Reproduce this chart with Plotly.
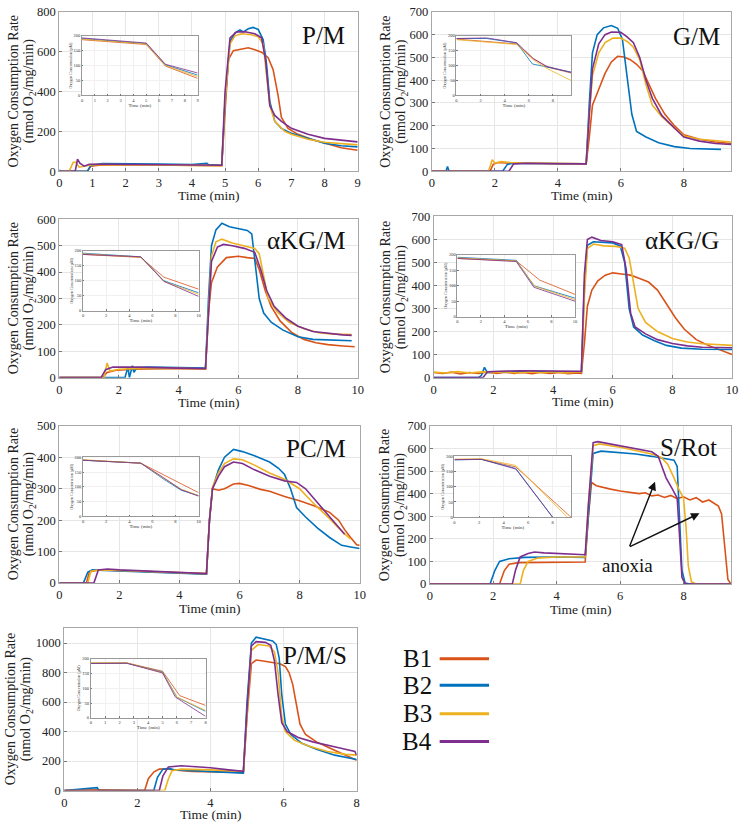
import plotly.graph_objects as go

W, H = 745, 829
FONT = "Liberation Serif, Times New Roman, Times, serif"
SERIES = ["B1", "B2", "B3", "B4"]
COLORS = ["#D95319", "#0072BD", "#EDB120", "#7E2F8E"]

# ---------------- data: (time min, rate nmol O2/mg/min) ----------------
PM_B1 = [(0,0),(0.85,0),(0.95,25),(1.2,30),(2,32),(3,30),(4,30),(4.9,28),(5.0,300),(5.1,560),(5.25,605),(5.5,612),(5.7,620),(5.9,610),(6.1,598),(6.3,570),(6.45,510),(6.6,380),(6.7,270),(6.9,215),(7.2,185),(7.6,160),(8.0,140),(8.5,118),(9.0,105)]
PM_B2 = [(0,5),(0.1,0),(0.85,0),(0.95,30),(1.3,38),(2,38),(3,36),(4,33),(4.45,40),(4.5,33),(4.9,30),(5.0,350),(5.15,650),(5.3,695),(5.45,710),(5.55,700),(5.7,715),(5.85,722),(6.0,712),(6.15,660),(6.25,540),(6.35,350),(6.5,250),(6.7,215),(7.0,190),(7.5,165),(8.0,140),(8.5,128),(9.0,122)]
PM_B3 = [(0,0),(0.3,0),(0.42,45),(0.5,45),(0.6,20),(0.8,28),(1.0,33),(2,32),(3,30),(4,30),(4.9,28),(5.0,350),(5.15,640),(5.3,680),(5.5,690),(5.8,685),(6.0,675),(6.15,640),(6.25,500),(6.35,330),(6.5,250),(6.8,200),(7.0,185),(7.5,160),(8.0,145),(8.5,140),(9.0,132)]
PM_B4 = [(0,0),(0.48,0),(0.55,60),(0.62,40),(0.75,25),(0.9,35),(1.5,35),(2.5,33),(3.5,31),(4.5,30),(4.9,30),(5.0,400),(5.15,670),(5.35,700),(5.6,700),(5.9,690),(6.1,670),(6.22,560),(6.35,330),(6.5,280),(6.7,250),(7.0,215),(7.5,185),(8.0,165),(8.5,155),(9.0,147)]
PM_IN_B1 = [(0,186),(5,170),(6.5,98),(9,57)]
PM_IN_B2 = [(0,190),(5,173),(6.5,102),(9,68)]
PM_IN_B3 = [(0,188),(5,172),(6.5,100),(9,63)]
PM_IN_B4 = [(0,192),(5,175),(6.5,104),(9,75)]

GM_B1 = [(0,0),(1.85,0),(1.95,30),(2.1,38),(2.5,35),(3,35),(4,33),(4.9,32),(5.0,150),(5.1,290),(5.3,360),(5.5,430),(5.7,480),(5.9,505),(6.1,502),(6.3,490),(6.5,470),(6.7,440),(6.9,380),(7.1,320),(7.4,250),(7.7,200),(8.0,160),(8.5,140),(9.0,128),(9.5,122)]
GM_B2 = [(0,0),(0.45,0),(0.5,20),(0.55,0),(2.25,0),(2.4,30),(2.6,35),(3,35),(4,32),(4.9,32),(5.0,300),(5.1,520),(5.25,600),(5.45,630),(5.7,640),(5.9,628),(6.05,580),(6.2,420),(6.35,250),(6.5,175),(6.8,150),(7.2,125),(7.7,108),(8.2,100),(8.7,97),(9.18,96)]
GM_B3 = [(0,0),(1.8,0),(1.92,50),(2.0,35),(2.2,42),(2.5,38),(3,36),(4,34),(4.9,32),(5.0,250),(5.1,420),(5.3,520),(5.5,565),(5.75,585),(6.0,585),(6.2,570),(6.4,545),(6.6,490),(6.8,380),(7.0,290),(7.3,240),(7.7,190),(8.0,155),(8.5,140),(9.0,133),(9.5,128)]
GM_B4 = [(0,0),(2.45,0),(2.6,32),(3,35),(4,33),(4.9,32),(5.0,250),(5.1,450),(5.3,560),(5.5,600),(5.7,612),(6.0,610),(6.2,590),(6.4,565),(6.6,500),(6.8,400),(7.0,320),(7.3,245),(7.7,190),(8.0,150),(8.5,132),(9.0,122),(9.5,117)]
GM_IN_B1 = [(0,188),(5,172),(6.3,125),(7.5,95),(9.5,75)]
GM_IN_B2 = [(0,190),(2.5,190),(5,175),(6.3,105),(7.5,95),(9.5,78)]
GM_IN_B3 = [(0,186),(5,170),(6.4,118),(7.5,90),(9.5,50)]
GM_IN_B4 = [(0,190),(2.5,192),(5,176),(6.4,122),(7.5,97),(9.5,77)]

KM_B1 = [(0,0),(1.45,0),(1.6,20),(1.9,28),(2.5,32),(3,33),(4,35),(4.9,32),(5.0,250),(5.1,360),(5.3,420),(5.6,455),(6.0,460),(6.3,455),(6.55,452),(6.7,410),(6.9,330),(7.1,270),(7.4,215),(7.8,170),(8.2,145),(8.6,132),(9.0,125),(9.5,120),(9.9,117)]
KM_B2 = [(0,0),(2.2,0),(2.3,40),(2.35,0),(2.45,45),(2.5,20),(2.6,38),(3,40),(4,38),(4.9,36),(5.0,300),(5.1,500),(5.25,560),(5.45,585),(5.7,572),(6.0,565),(6.3,558),(6.45,545),(6.55,450),(6.7,300),(6.85,245),(7.1,210),(7.5,180),(8.0,155),(8.5,145),(9.0,142),(9.8,140)]
KM_B3 = [(0,0),(1.5,0),(1.6,55),(1.7,25),(2,32),(3,36),(4,35),(4.9,33),(5.0,250),(5.1,460),(5.25,515),(5.45,525),(5.8,510),(6.2,500),(6.55,490),(6.7,470),(6.85,380),(7.0,300),(7.3,250),(7.7,210),(8.2,185),(8.7,170),(9.2,165),(9.8,163)]
KM_B4 = [(0,0),(1.4,0),(1.55,30),(1.8,40),(2.5,40),(3,38),(4,36),(4.9,34),(5.0,250),(5.1,440),(5.3,495),(5.5,505),(5.8,500),(6.2,490),(6.55,475),(6.75,410),(6.95,330),(7.2,270),(7.6,225),(8.0,195),(8.5,175),(9.0,168),(9.5,162),(9.8,160)]
KM_IN_B1 = [(0,188),(5,178),(7,112),(10,72)]
KM_IN_B2 = [(0,192),(5,180),(7,100),(10,60)]
KM_IN_B3 = [(0,190),(5,179),(7,98),(10,55)]
KM_IN_B4 = [(0,188),(5,180),(7,98),(10,48)]

KG_B1 = [(0,22),(0.3,18),(0.6,24),(0.9,16),(1.2,22),(1.5,18),(1.8,25),(2.1,18),(2.4,24),(2.7,18),(3.0,22),(3.3,17),(3.6,23),(3.9,18),(4.2,22),(4.5,17),(4.8,20),(4.95,18),(5.05,150),(5.15,310),(5.3,380),(5.5,420),(5.75,445),(6.0,455),(6.3,450),(6.6,445),(6.9,430),(7.2,415),(7.5,380),(7.8,320),(8.1,260),(8.4,210),(8.8,165),(9.2,140),(9.6,120),(10,100)]
KG_B2 = [(0,0),(1.5,0),(1.6,10),(1.7,45),(1.8,22),(2.2,25),(3,27),(4,25),(4.95,24),(5.05,400),(5.15,575),(5.35,590),(5.7,588),(6.0,585),(6.25,572),(6.4,500),(6.55,300),(6.7,220),(7.0,185),(7.4,160),(7.8,140),(8.3,128),(9.0,123),(10,122)]
KG_B3 = [(0,24),(0.4,20),(0.8,26),(1.2,20),(1.6,25),(2.0,21),(2.4,26),(2.8,20),(3.2,25),(3.6,21),(4.0,26),(4.4,20),(4.8,24),(4.95,24),(5.05,350),(5.15,560),(5.35,580),(5.7,572),(6.1,570),(6.4,562),(6.55,520),(6.7,400),(6.85,300),(7.1,240),(7.5,200),(8.0,170),(8.5,155),(9.0,147),(10,140)]
KG_B4 = [(0,0),(1.65,0),(1.8,25),(2.2,28),(3,30),(4,28),(4.95,27),(5.05,450),(5.15,600),(5.3,610),(5.6,595),(6.0,590),(6.3,578),(6.45,470),(6.6,280),(6.75,220),(7.1,190),(7.5,165),(8.0,148),(8.5,138),(9.0,132),(10,130)]
KG_IN_B1 = [(0,188),(5,180),(7,118),(10,72)]
KG_IN_B2 = [(0,192),(5,182),(6.5,100),(10,60)]
KG_IN_B3 = [(0,190),(5,180),(6.6,98),(10,55)]
KG_IN_B4 = [(0,188),(5,178),(6.5,95),(10,50)]

PC_B1 = [(0,0),(0.9,0),(1.0,35),(1.3,42),(2,40),(2.5,38),(3,35),(3.5,33),(4,32),(4.5,31),(4.9,30),(5.0,200),(5.1,300),(5.3,295),(5.5,300),(5.8,315),(6.0,317),(6.3,310),(6.7,298),(7.0,292),(7.5,275),(8.0,262),(8.5,245),(9.0,225),(9.3,200),(9.5,170),(9.7,145),(9.9,122),(10,120)]
PC_B2 = [(0,0),(0.8,0),(0.95,35),(1.1,42),(1.5,40),(2,38),(3,35),(4,30),(4.9,28),(5.0,200),(5.1,300),(5.3,360),(5.5,400),(5.8,425),(6.1,418),(6.5,405),(7.0,385),(7.3,365),(7.5,345),(7.7,300),(7.9,240),(8.2,210),(8.6,175),(9.0,145),(9.4,120),(9.7,115),(10,110)]
PC_B3 = [(0,0),(0.95,0),(1.05,38),(1.4,42),(2,40),(3,36),(4,32),(4.9,30),(5.0,200),(5.1,305),(5.3,350),(5.5,380),(5.8,395),(6.1,392),(6.5,375),(7.0,350),(7.5,330),(8.0,300),(8.5,250),(9.0,205),(9.4,165),(9.7,140)]
PC_B4 = [(0,0),(1.15,0),(1.3,42),(1.6,45),(2,42),(3,38),(4,33),(4.9,30),(5.0,200),(5.1,300),(5.3,340),(5.5,370),(5.8,385),(6.1,380),(6.5,360),(7.0,340),(7.5,325),(7.9,320),(8.2,300),(8.6,255),(9.0,210),(9.3,175),(9.5,155)]
PC_IN_B1 = [(0,190),(5,180),(7,140),(10,80)]
PC_IN_B2 = [(0,190),(5,180),(7,125),(8.5,88),(10,70)]
PC_IN_B3 = [(0,192),(5,180),(7,128),(8.5,92),(10,70)]
PC_IN_B4 = [(0,190),(5,180),(7,130),(8.5,90),(10,68)]

SR_B1 = [(0,0),(2.2,0),(2.35,60),(2.5,88),(2.8,95),(3.5,97),(4.2,98),(4.9,98),(5.0,300),(5.1,450),(5.25,435),(5.5,425),(5.7,420),(6.0,412),(6.3,405),(6.6,400),(6.8,404),(7.0,390),(7.2,394),(7.4,383),(7.6,392),(7.8,378),(8.0,386),(8.2,372),(8.4,382),(8.6,363),(8.8,372),(9.0,352),(9.1,345),(9.2,310),(9.3,150),(9.4,20),(9.5,0)]
SR_B2 = [(0,0),(1.9,0),(2.05,60),(2.2,100),(2.5,112),(3.0,118),(4.0,120),(4.9,118),(5.0,300),(5.15,578),(5.4,588),(6.0,580),(6.5,575),(7.0,565),(7.5,555),(7.7,548),(7.8,520),(7.87,300),(7.95,60),(8.05,5),(8.2,0),(9.5,0)]
SR_B3 = [(0,0),(2.85,0),(2.95,60),(3.1,100),(3.4,115),(4.0,120),(4.9,120),(5.0,350),(5.15,612),(5.35,620),(6.0,605),(6.5,590),(7.0,575),(7.3,560),(7.5,530),(7.7,470),(7.85,420),(8.0,380),(8.08,250),(8.15,80),(8.25,10),(8.4,0),(9.5,0)]
SR_B4 = [(0,0),(2.6,0),(2.7,60),(2.85,120),(3.1,135),(3.3,142),(3.6,138),(4.0,135),(4.5,133),(4.9,130),(5.0,350),(5.15,625),(5.3,630),(6.0,612),(6.5,600),(7.0,585),(7.2,565),(7.3,530),(7.45,470),(7.65,420),(7.8,380),(7.88,200),(7.95,30),(8.05,0),(9.5,0)]
SR_IN_B1 = [(0,190),(2.2,190),(5,165),(9.5,0)]
SR_IN_B2 = [(0,188),(2.2,190),(5,160),(8,0)]
SR_IN_B3 = [(0,190),(2.2,192),(5,170),(9.2,0)]
SR_IN_B4 = [(0,189),(2.2,190),(5,158),(8,0)]

PMS_B1 = [(0,0),(0.9,5),(2.2,0),(2.3,80),(2.45,125),(2.6,145),(2.8,148),(3.0,140),(3.5,130),(4.0,125),(4.5,125),(4.9,122),(5.0,500),(5.12,860),(5.25,885),(5.4,880),(5.6,870),(5.9,860),(6.05,840),(6.15,800),(6.25,720),(6.35,580),(6.45,450),(6.6,380),(6.9,330),(7.2,295),(7.6,250),(8.0,205)]
PMS_B2 = [(0,0),(0.9,20),(0.95,0),(2.45,0),(2.55,90),(2.7,145),(2.85,150),(3.0,140),(3.5,135),(4.0,130),(4.5,125),(4.9,118),(5.0,600),(5.12,1000),(5.25,1040),(5.45,1030),(5.7,1015),(5.8,990),(5.88,900),(5.95,650),(6.05,450),(6.2,380),(6.5,320),(6.9,280),(7.4,240),(8.0,210)]
PMS_B3 = [(0,0),(2.75,0),(2.85,80),(2.95,135),(3.2,145),(3.6,145),(4.0,140),(4.5,135),(4.9,132),(5.0,500),(5.12,950),(5.3,990),(5.6,980),(5.75,940),(5.85,800),(5.95,500),(6.05,400),(6.3,340),(6.7,300),(7.2,265),(7.7,245),(8.0,240)]
PMS_B4 = [(0,0),(2.6,0),(2.7,100),(2.85,160),(3.2,168),(3.6,162),(4.0,155),(4.5,140),(4.9,130),(5.0,550),(5.12,980),(5.25,1010),(5.5,1005),(5.65,985),(5.75,880),(5.85,650),(5.95,460),(6.1,400),(6.4,360),(6.8,330),(7.2,305),(7.6,285),(7.95,265),(8.0,240)]
PMS_IN_B1 = [(0,185),(2.5,186),(5,158),(6.2,75),(8,42)]
PMS_IN_B2 = [(0,185),(2.5,185),(5,155),(6.0,70),(8,22)]
PMS_IN_B3 = [(0,186),(2.5,186),(5,153),(6.0,70),(8,25)]
PMS_IN_B4 = [(0,184),(2.5,185),(5,152),(5.9,70),(8,5)]

# ---------------- panel layout (pixel boxes) ----------------
PANELS = [
    dict(label="P/M", main=[PM_B1, PM_B2, PM_B3, PM_B4], inset=[PM_IN_B1, PM_IN_B2, PM_IN_B3, PM_IN_B4],
         xr=[0, 9], xd=1, yr=[0, 800], yd=200, box=(57, 5, 359, 167), ibox=(80, 29, 197, 90), idt=1,
         lab=(348, 29), yt=(11, 27), xt=192),
    dict(label="G/M", main=[GM_B1, GM_B2, GM_B3, GM_B4], inset=[GM_IN_B1, GM_IN_B2, GM_IN_B3, GM_IN_B4],
         xr=[0, 9.5], xd=2, yr=[0, 700], yd=100, box=(434, 5, 737, 167), ibox=(459, 29, 575, 90), idt=2,
         lab=(728, 30), yt=(387, 403), xt=192),
    dict(label="αKG/M", main=[KM_B1, KM_B2, KM_B3, KM_B4], inset=[KM_IN_B1, KM_IN_B2, KM_IN_B3, KM_IN_B4],
         xr=[0, 10], xd=2, yr=[0, 600], yd=100, box=(57, 216, 359, 377), ibox=(81, 248, 198, 309), idt=2,
         lab=(348, 238), yt=(11, 27), xt=402),
    dict(label="αKG/G", main=[KG_B1, KG_B2, KG_B3, KG_B4], inset=[KG_IN_B1, KG_IN_B2, KG_IN_B3, KG_IN_B4],
         xr=[0, 10], xd=2, yr=[0, 700], yd=100, box=(436, 213, 738, 377), ibox=(460, 252, 579, 315), idt=2,
         lab=(727, 238), yt=(387, 403), xt=401),
    dict(label="PC/M", main=[PC_B1, PC_B2, PC_B3, PC_B4], inset=[PC_IN_B1, PC_IN_B2, PC_IN_B3, PC_IN_B4],
         xr=[0, 10], xd=2, yr=[0, 500], yd=100, box=(57, 426, 361, 586), ibox=(81, 458, 198, 518), idt=2,
         lab=(349, 449), yt=(11, 27), xt=612),
    dict(label="S/Rot", main=[SR_B1, SR_B2, SR_B3, SR_B4], inset=[SR_IN_B1, SR_IN_B2, SR_IN_B3, SR_IN_B4],
         xr=[0, 9.5], xd=2, yr=[0, 700], yd=100, box=(432, 426, 737, 587), ibox=(457, 457, 575, 519), idt=2,
         lab=(725, 448), yt=(387, 403), xt=613),
    dict(label="P/M/S", main=[PMS_B1, PMS_B2, PMS_B3, PMS_B4], inset=[PMS_IN_B1, PMS_IN_B2, PMS_IN_B3, PMS_IN_B4],
         xr=[0, 8], xd=2, yr=[0, 1100], yd=200, box=(62, 632, 358, 797), ibox=(89, 663, 205, 723), idt=1,
         lab=(350, 660), yt=(8, 24), xt=821),
]


def px_x(x):
    return x / W


def px_y(y):
    return 1 - y / H


fig = go.Figure()
layout = dict(width=W, height=H, margin=dict(l=0, r=0, t=0, b=0),
              paper_bgcolor="white", plot_bgcolor="white", showlegend=False,
              font=dict(family=FONT, color="#222"))
annotations = []
shapes = []

n = len(PANELS)
for i, p in enumerate(PANELS):
    mi = i + 1
    ii = i + 1 + n
    x0, y0, x1, y1 = p["box"]
    ix0, iy0, ix1, iy1 = p["ibox"]
    layout[f"xaxis{mi}"] = dict(domain=[px_x(x0), px_x(x1)], range=p["xr"], dtick=p["xd"], tick0=0,
                                anchor=f"y{mi}", showgrid=True, gridcolor="#e6e6e6", gridwidth=1,
                                showline=True, linecolor="#a8a8a8", linewidth=1, mirror=True,
                                ticks="inside", ticklen=3, tickcolor="#777", zeroline=False,
                                tickfont=dict(family=FONT, size=12.5, color="#222"))
    layout[f"yaxis{mi}"] = dict(domain=[px_y(y1), px_y(y0)], range=p["yr"], dtick=p["yd"], tick0=0,
                                anchor=f"x{mi}", showgrid=True, gridcolor="#e6e6e6", gridwidth=1,
                                showline=True, linecolor="#a8a8a8", linewidth=1, mirror=True,
                                ticks="inside", ticklen=3, tickcolor="#777", zeroline=False,
                                tickfont=dict(family=FONT, size=12.5, color="#222"))
    layout[f"xaxis{ii}"] = dict(domain=[px_x(ix0), px_x(ix1)], range=p["xr"], dtick=p["idt"], tick0=0,
                                anchor=f"y{ii}", showgrid=True, gridcolor="#f0f0f0",
                                showline=True, linecolor="#999", linewidth=0.8, mirror=True,
                                ticks="inside", ticklen=1.5, tickcolor="#777", zeroline=False,
                                tickfont=dict(family=FONT, size=4.5, color="#333"),
                                title=dict(text="Time (min)", font=dict(family=FONT, size=5, color="#333"), standoff=1))
    layout[f"yaxis{ii}"] = dict(domain=[px_y(iy1), px_y(iy0)], range=[0, 200], dtick=50, tick0=0,
                                anchor=f"x{ii}", showgrid=True, gridcolor="#f0f0f0",
                                showline=True, linecolor="#999", linewidth=0.8, mirror=True,
                                ticks="inside", ticklen=1.5, tickcolor="#777", zeroline=False,
                                tickfont=dict(family=FONT, size=4.5, color="#333"),
                                title=dict(text="Oxygen Concentration (µM)", font=dict(family=FONT, size=4, color="#333"), standoff=1))
    for s, (series, col) in enumerate(zip(p["main"], COLORS)):
        fig.add_trace(go.Scatter(x=[a for a, b in series], y=[b for a, b in series], mode="lines",
                                 name=SERIES[s], line=dict(color=col, width=1.6),
                                 xaxis=f"x{mi}", yaxis=f"y{mi}"))
    for s, (series, col) in enumerate(zip(p["inset"], COLORS)):
        fig.add_trace(go.Scatter(x=[a for a, b in series], y=[b for a, b in series], mode="lines",
                                 name=SERIES[s], line=dict(color=col, width=0.8),
                                 xaxis=f"x{ii}", yaxis=f"y{ii}"))
    annotations.append(dict(text=p["label"], x=px_x(p["lab"][0]), y=px_y(p["lab"][1]), xref="paper", yref="paper",
                            xanchor="right", yanchor="middle", showarrow=False,
                            font=dict(family=FONT, size=25, color="#111")))
    annotations.append(dict(text="Time (min)", x=px_x((x0 + x1) / 2), y=px_y(p["xt"]), xref="paper", yref="paper",
                            xanchor="center", yanchor="middle", showarrow=False,
                            font=dict(family=FONT, size=13.5, color="#222")))
    ym = (y0 + y1) / 2
    annotations.append(dict(text="Oxygen Consumption Rate", x=px_x(p["yt"][0]), y=px_y(ym), xref="paper", yref="paper",
                            xanchor="center", yanchor="middle", showarrow=False, textangle=-90,
                            font=dict(family=FONT, size=14, color="#222")))
    annotations.append(dict(text="(nmol O<sub>2</sub>/mg/min)", x=px_x(p["yt"][1]), y=px_y(ym), xref="paper", yref="paper",
                            xanchor="center", yanchor="middle", showarrow=False, textangle=-90,
                            font=dict(family=FONT, size=14, color="#222")))

annotations.append(dict(text="anoxia", x=px_x(632), y=px_y(568), xref="paper", yref="paper",
                        xanchor="center", yanchor="middle", showarrow=False,
                        font=dict(family=FONT, size=19, color="#111")))
for hx, hy in [(660, 483), (705, 515)]:
    annotations.append(dict(text="", x=px_x(hx), y=px_y(hy), xref="paper", yref="paper",
                            ax=634 - hx, ay=549 - hy, axref="pixel", ayref="pixel",
                            showarrow=True, arrowhead=2, arrowsize=1.2, arrowwidth=1.4, arrowcolor="#111"))

LEG_Y = [663, 690, 719, 747]
for name, col, ly in zip(SERIES, COLORS, LEG_Y):
    annotations.append(dict(text=name, x=px_x(436), y=px_y(ly), xref="paper", yref="paper",
                            xanchor="right", yanchor="middle", showarrow=False,
                            font=dict(family=FONT, size=25, color="#111")))
    shapes.append(dict(type="line", xref="paper", yref="paper", x0=px_x(442), x1=px_x(492),
                       y0=px_y(ly), y1=px_y(ly), line=dict(color=col, width=3)))

layout["annotations"] = annotations
layout["shapes"] = shapes
fig.update_layout(**layout)
fig.write_html("out.html", config={"displayModeBar": False},
               post_script="document.body.style.margin='0';document.body.style.overflow='hidden';")
